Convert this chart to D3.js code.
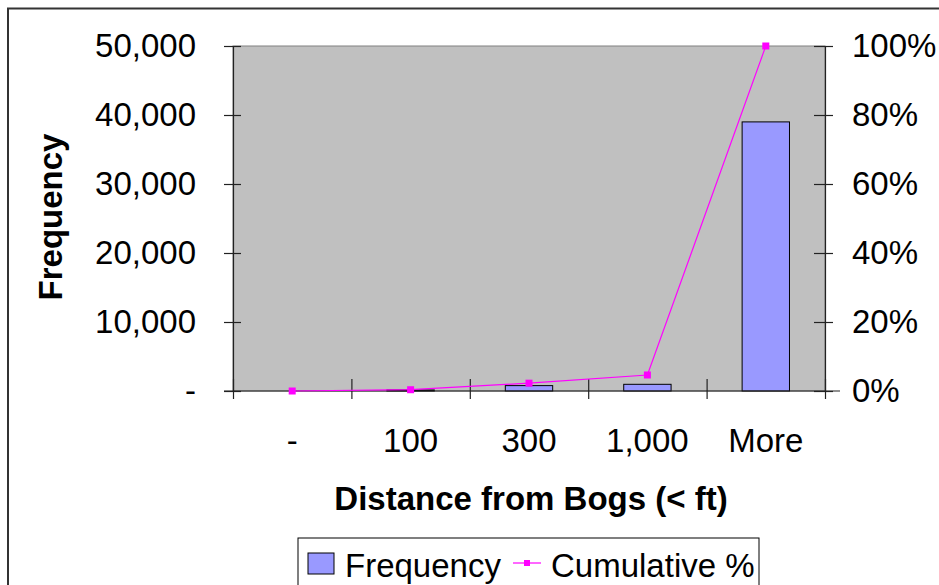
<!DOCTYPE html>
<html>
<head>
<meta charset="utf-8">
<script src="https://cdn.jsdelivr.net/npm/d3@7"></script>
<style>
  body { margin: 0; background: #fff; }
  text { font-family: "Liberation Sans", Arial, sans-serif; }
</style>
</head>
<body>
<script>
// Data
const categories = ['-', '100', '300', '1,000', 'More']
const frequency  = [0, 150, 780, 970, 39000]
const cumulative = [0, 0.0037, 0.0227, 0.0464, 1.0]
const leftTicks  = [0, 10000, 20000, 30000, 40000, 50000]
const rightTicks = [0, 0.2, 0.4, 0.6, 0.8, 1.0]

// Layout
const width  = 939
const height = 585
const plotL = 233, plotR = 825, plotT = 46, plotB = 391

const svg = d3.select('body').append('svg')
              .attr('width', width)
              .attr('height', height)

// Outer chart border
svg.append('rect')
   .attr('x', 8).attr('y', 8.5)
   .attr('width', 960).attr('height', 600)
   .attr('fill', '#fff')
   .attr('stroke', '#333').attr('stroke-width', 2)

// Scales
const x = d3.scaleBand().domain(categories).range([plotL, plotR]).padding(0)
const xEdge = d3.scaleLinear().domain([0, categories.length]).range([plotL, plotR])
const yL = d3.scaleLinear().domain([0, 50000]).range([plotB, plotT])
const yR = d3.scaleLinear().domain([0, 1]).range([plotB, plotT])

// Plot area
svg.append('rect')
   .attr('x', plotL).attr('y', plotT)
   .attr('width', plotR - plotL).attr('height', plotB - plotT)
   .attr('fill', '#C0C0C0')
   .attr('stroke', '#808080').attr('stroke-width', 1)

// Bars
const barW = x.bandwidth() / 2.5
svg.append('g')
   .selectAll('rect')
   .data(frequency)
   .enter()
   .append('rect')
   .attr('x', (d, i) => x(categories[i]) + (x.bandwidth() - barW) / 2)
   .attr('y', d => yL(d))
   .attr('width', barW)
   .attr('height', d => plotB - yL(d))
   .attr('fill', '#9999FF')
   .attr('stroke', '#000')
   .attr('stroke-width', 1)

// Axes
const fmtL = d => d === 0 ? '-' : d3.format(',')(d)
const gL = svg.append('g')
   .attr('transform', `translate(${plotL},0)`)
   .call(d3.axisLeft(yL).tickValues(leftTicks).tickFormat(fmtL).tickSize(9).tickPadding(28))
gL.selectAll('.tick line').attr('x1', 8)

const gR = svg.append('g')
   .attr('transform', `translate(${plotR},0)`)
   .call(d3.axisRight(yR).tickValues(rightTicks).tickFormat(d3.format('.0%')).tickSize(8).tickPadding(19))
gR.selectAll('.tick line').attr('x1', -11)

const gE = svg.append('g')
   .attr('transform', `translate(0,${plotB})`)
   .call(d3.axisBottom(xEdge).ticks(categories.length).tickFormat('').tickSize(8).tickSizeOuter(0))
gE.selectAll('.tick line').attr('y1', -12)
gE.select('.domain').attr('d', `M${plotL - 9},0H${plotR + 15}`)

const gX = svg.append('g')
   .attr('transform', `translate(0,${plotB})`)
   .call(d3.axisBottom(x).tickSize(0).tickPadding(38))
gX.select('.domain').remove()

svg.selectAll('.domain, .tick line').attr('stroke', '#222').attr('stroke-width', 1.2)
svg.selectAll('.tick text').attr('font-size', 33).attr('fill', '#000')
   .style('font-family', '"Liberation Sans", Arial, sans-serif')

// Cumulative line
const line = d3.line()
   .x((d, i) => x(categories[i]) + x.bandwidth() / 2)
   .y(d => yR(d))
svg.append('path')
   .datum(cumulative)
   .attr('d', line)
   .attr('fill', 'none')
   .attr('stroke', '#FF00FF')
   .attr('stroke-width', 1.2)
svg.append('g')
   .selectAll('rect')
   .data(cumulative)
   .enter()
   .append('rect')
   .attr('x', (d, i) => x(categories[i]) + x.bandwidth() / 2 - 3.5)
   .attr('y', d => yR(d) - 3.5)
   .attr('width', 7).attr('height', 7)
   .attr('fill', '#FF00FF')

// Axis titles
svg.append('text')
   .attr('x', 531).attr('y', 510)
   .attr('text-anchor', 'middle')
   .attr('font-size', 33).attr('font-weight', 'bold')
   .text('Distance from Bogs (< ft)')
svg.append('text')
   .attr('transform', 'translate(62,217) rotate(-90)')
   .attr('text-anchor', 'middle')
   .attr('font-size', 33).attr('font-weight', 'bold')
   .text('Frequency')

// Legend
const lg = svg.append('g')
lg.append('rect')
  .attr('x', 298).attr('y', 538)
  .attr('width', 461).attr('height', 70)
  .attr('fill', '#fff').attr('stroke', '#000').attr('stroke-width', 1)
lg.append('rect')
  .attr('x', 308).attr('y', 553).attr('width', 26).attr('height', 21)
  .attr('fill', '#9999FF').attr('stroke', '#000').attr('stroke-width', 1)
lg.append('text')
  .attr('x', 345).attr('y', 577).attr('font-size', 33)
  .text('Frequency')
lg.append('line')
  .attr('x1', 513).attr('x2', 541).attr('y1', 563).attr('y2', 563)
  .attr('stroke', '#FF00FF').attr('stroke-width', 1.2)
lg.append('rect')
  .attr('x', 524).attr('y', 560).attr('width', 6).attr('height', 6)
  .attr('fill', '#FF00FF')
lg.append('text')
  .attr('x', 551).attr('y', 577).attr('font-size', 33)
  .text('Cumulative %')
</script>
</body>
</html>
